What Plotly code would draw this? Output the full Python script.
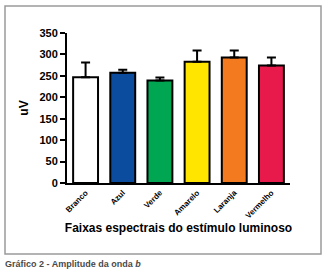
import plotly.graph_objects as go

categories = ["Branco", "Azul", "Verde", "Amarelo", "Laranja", "Vermelho"]
values = [247, 257, 239, 283, 293, 274]
errors_up = [34, 7, 7, 26, 16, 19]
colors = ["#ffffff", "#0b4c9e", "#00a651", "#ffe500", "#f47a20", "#e8194b"]
y_ticks = [0, 50, 100, 150, 200, 250, 300, 350]

W, H = 327, 273
ml, mr, mt, mb = 67, 37, 33, 90
pw, ph = W - ml - mr, H - mt - mb

def px_x(p):
    return (p - ml) / pw

def px_y(p):
    return 1 - (p - mt) / ph

fig = go.Figure(go.Bar(
    x=categories, y=values,
    marker=dict(color=colors, line=dict(color="#000000", width=2)),
    width=0.67,
    error_y=dict(type="data", symmetric=False, array=errors_up,
                 arrayminus=[0] * len(values), color="#000000",
                 thickness=2, width=4.5),
))

fig.update_layout(
    width=W, height=H,
    margin=dict(l=ml, r=mr, t=mt, b=mb),
    paper_bgcolor="white", plot_bgcolor="white",
    showlegend=False,
    font=dict(family="Liberation Sans, Arial", color="#000000"),
)
fig.update_xaxes(
    range=[-0.5, 5.5], showline=True, linecolor="#000", linewidth=2,
    tickangle=-45, ticks="", tickfont=dict(size=8),
    tickvals=list(range(len(categories))),
    ticktext=["<b>%s</b>" % c for c in categories],
    title=dict(text="<b>Faixas espectrais do estímulo luminoso</b>",
               font=dict(size=12), standoff=4),
)
fig.update_yaxes(
    range=[0, 350], showline=True, linecolor="#000", linewidth=2,
    ticks="outside", ticklen=5, tickwidth=2, tickcolor="#000",
    tickvals=y_ticks, ticktext=["<b>%d</b>" % v for v in y_ticks],
    tickfont=dict(size=11), showgrid=False, zeroline=False,
    title=dict(text="<b>uV</b>", font=dict(size=12), standoff=8),
)

fig.add_shape(type="rect", xref="paper", yref="paper",
              x0=px_x(5), x1=px_x(321), y0=px_y(254), y1=px_y(6),
              line=dict(color="#9a9a9a", width=1.5), layer="below")

fig.add_annotation(xref="paper", yref="paper", x=px_x(3), y=px_y(264),
                   xanchor="left", yanchor="middle", showarrow=False,
                   text="<b>Gráfico 2 - Amplitude da onda <i>b</i></b>",
                   font=dict(size=9, color="#4a4a4a"))

fig.write_html("out.html")
